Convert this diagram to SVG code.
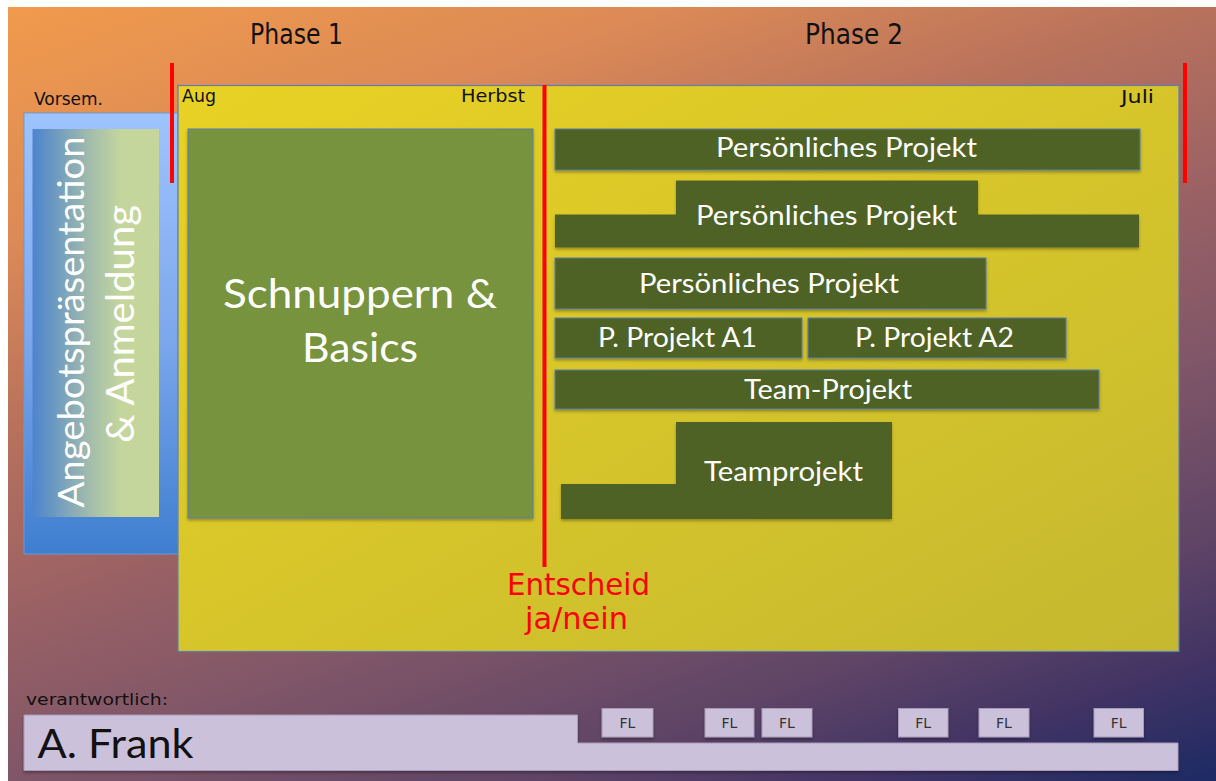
<svg xmlns="http://www.w3.org/2000/svg" width="1216" height="781" viewBox="0 0 1216 781">
<defs>
<linearGradient id="bg" gradientUnits="userSpaceOnUse" x1="0" y1="0" x2="381" y2="1077">
<stop offset="0" stop-color="#F29B4C"/>
<stop offset="0.2" stop-color="#DC8A56"/>
<stop offset="0.355" stop-color="#B8725C"/>
<stop offset="0.5" stop-color="#9C6264"/>
<stop offset="0.645" stop-color="#805668"/>
<stop offset="0.8" stop-color="#5E4466"/>
<stop offset="0.9" stop-color="#403364"/>
<stop offset="1" stop-color="#1C2A64"/>
</linearGradient>
<linearGradient id="blue" x1="0" y1="0" x2="0" y2="1">
<stop offset="0" stop-color="#9EC4FF"/>
<stop offset="0.5" stop-color="#7EA8EC"/>
<stop offset="1" stop-color="#3E7ECF"/>
</linearGradient>
<linearGradient id="inner" x1="0" y1="0" x2="1" y2="0">
<stop offset="0" stop-color="#4C84CE"/>
<stop offset="0.45" stop-color="#A2BCAC"/>
<stop offset="0.7" stop-color="#C4D69C"/>
<stop offset="1" stop-color="#C4D69C"/>
</linearGradient>
<linearGradient id="yellow" x1="0" y1="0" x2="1" y2="1">
<stop offset="0" stop-color="#E9D224"/>
<stop offset="1" stop-color="#C4B830"/>
</linearGradient>
<filter id="sh" x="-5%" y="-10%" width="110%" height="130%">
<feDropShadow dx="0" dy="2" stdDeviation="1.5" flood-color="#000" flood-opacity="0.3"/>
</filter>
<style>
.comic{font-family:"DejaVu Sans","Liberation Sans",sans-serif;fill:#111;}
.cal{font-family:Lato,"Liberation Sans",sans-serif;fill:#fff;text-anchor:middle;}
.bar{fill:#4F6228;stroke:#5A7DA8;stroke-width:1;filter:url(#sh);}
.barn{fill:#4F6228;filter:url(#sh);}
.red{stroke:#FF0000;stroke-width:4;}
.lav{fill:#CCC1DA;stroke:#A89AB8;stroke-width:1;filter:url(#sh);}
.fl{font-family:"DejaVu Sans","Liberation Sans",sans-serif;font-size:14px;fill:#333;text-anchor:middle;}
.ent{font-family:"DejaVu Sans","Liberation Sans",sans-serif;fill:#FF0000;text-anchor:middle;}
</style>
</defs>
<rect x="0" y="0" width="1216" height="781" fill="#fff"/>
<rect x="8" y="7" width="1208" height="774" fill="url(#bg)"/>

<g id="phase-labels">
<text class="comic" x="250" y="44" font-size="29" textLength="93" lengthAdjust="spacingAndGlyphs">Phase 1</text>
<text class="comic" x="805" y="44" font-size="29" textLength="98" lengthAdjust="spacingAndGlyphs">Phase 2</text>
</g>

<g id="vorsemester">
<text class="comic" x="34" y="105" font-size="18" textLength="69" lengthAdjust="spacingAndGlyphs">Vorsem.</text>
<rect x="24" y="113" width="154" height="441" fill="url(#blue)" stroke="#6E98D0" stroke-width="1"/>
<rect x="32.5" y="129" width="126.5" height="388" fill="url(#inner)"/>
<text class="cal" transform="translate(84,322) rotate(-90)" font-size="37" textLength="371" lengthAdjust="spacingAndGlyphs">Angebotspräsentation</text>
<text class="cal" transform="translate(134,324) rotate(-90)" font-size="39" textLength="238" lengthAdjust="spacingAndGlyphs">&amp; Anmeldung</text>
</g>

<g id="main-period">
<rect x="178" y="85.5" width="1001" height="566" fill="url(#yellow)" stroke="#5B7FB5" stroke-width="1.2"/>
<text class="comic" x="182" y="102" font-size="18" textLength="34" lengthAdjust="spacingAndGlyphs">Aug</text>
<text class="comic" x="461" y="102" font-size="18" textLength="64" lengthAdjust="spacingAndGlyphs">Herbst</text>
<text class="comic" x="1121" y="103" font-size="18" textLength="33" lengthAdjust="spacingAndGlyphs">Juli</text>
</g>

<g id="schnuppern">
<rect x="188" y="129" width="345" height="389" fill="#77933C" stroke="#5A7DA8" stroke-width="1" filter="url(#sh)"/>
<text class="cal" x="360" y="308" font-size="40" textLength="274" lengthAdjust="spacingAndGlyphs">Schnuppern &amp;</text>
<text class="cal" x="360" y="362" font-size="40" textLength="116" lengthAdjust="spacingAndGlyphs">Basics</text>
</g>

<g id="connectors">
<line class="red" x1="172" y1="63" x2="172" y2="183"/>
<line class="red" x1="544.5" y1="85" x2="544.5" y2="567"/>
<line class="red" x1="1185" y1="63" x2="1185" y2="183"/>
</g>

<g id="projekt1">
<rect class="bar" x="555" y="129" width="585" height="41"/>
<text class="cal" x="846.5" y="157" font-size="26" textLength="261" lengthAdjust="spacingAndGlyphs">Persönliches Projekt</text>
</g>

<g id="projekt2">
<path class="barn" d="M555 214.5 H676 V180.5 H978 V214.5 H1139 V247.5 H555 Z"/>
<text class="cal" x="826.5" y="225" font-size="26" textLength="261" lengthAdjust="spacingAndGlyphs">Persönliches Projekt</text>
</g>

<g id="projekt3">
<rect class="bar" x="555" y="258" width="431" height="51"/>
<text class="cal" x="769" y="293" font-size="26" textLength="260" lengthAdjust="spacingAndGlyphs">Persönliches Projekt</text>
</g>

<g id="projekt-a1">
<rect class="bar" x="555" y="318" width="247" height="40"/>
<text class="cal" x="677.5" y="347" font-size="26" textLength="159" lengthAdjust="spacingAndGlyphs">P. Projekt A1</text>
</g>

<g id="projekt-a2">
<rect class="bar" x="808" y="318" width="258" height="40"/>
<text class="cal" x="934.5" y="347" font-size="26" textLength="159" lengthAdjust="spacingAndGlyphs">P. Projekt A2</text>
</g>

<g id="team-projekt">
<rect class="bar" x="555" y="370" width="544" height="39"/>
<text class="cal" x="828" y="399" font-size="26" textLength="168" lengthAdjust="spacingAndGlyphs">Team-Projekt</text>
</g>

<g id="teamprojekt">
<path class="barn" d="M561 484 H676 V422 H892 V519 H561 Z"/>
<text class="cal" x="783.5" y="481" font-size="26" textLength="159" lengthAdjust="spacingAndGlyphs">Teamprojekt</text>
</g>

<g id="entscheid">
<text class="ent" x="578.5" y="595" font-size="31" textLength="143" lengthAdjust="spacingAndGlyphs">Entscheid</text>
<text class="ent" x="576.5" y="629" font-size="31" textLength="103" lengthAdjust="spacingAndGlyphs">ja/nein</text>
</g>

<g id="verantwortlich">
<text class="comic" x="26" y="705" font-size="16" textLength="142" lengthAdjust="spacingAndGlyphs">verantwortlich:</text>
<path class="lav" d="M24 715 H577.5 V743 H1178 V770.5 H24 Z"/>
<text x="37.5" y="758" font-family="Lato,'Liberation Sans',sans-serif" font-size="41" fill="#111" textLength="156" lengthAdjust="spacingAndGlyphs">A. Frank</text>
</g>

<g id="fl-boxes">
<g id="fl1"><rect class="lav" x="602" y="708.5" width="51" height="28.5"/><text class="fl" x="627.5" y="728">FL</text></g>
<g id="fl2"><rect class="lav" x="705" y="708.5" width="49" height="28.5"/><text class="fl" x="729.5" y="728">FL</text></g>
<g id="fl3"><rect class="lav" x="762" y="708.5" width="50" height="28.5"/><text class="fl" x="787" y="728">FL</text></g>
<g id="fl4"><rect class="lav" x="898.5" y="708.5" width="49.5" height="28.5"/><text class="fl" x="923.2" y="728">FL</text></g>
<g id="fl5"><rect class="lav" x="979" y="708.5" width="50" height="28.5"/><text class="fl" x="1004" y="728">FL</text></g>
<g id="fl6"><rect class="lav" x="1094" y="708.5" width="49.5" height="28.5"/><text class="fl" x="1118.7" y="728">FL</text></g>
</g>
</svg>
